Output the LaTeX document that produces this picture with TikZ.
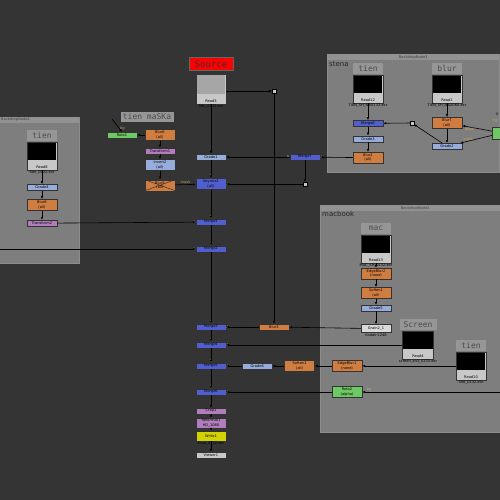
\documentclass[tikz,border=0pt]{standalone}
\usepackage{fontspec}
\setmainfont{DejaVu Sans}
\newfontfamily\stampfont{DejaVu Sans Mono}
\usetikzlibrary{positioning, arrows.meta}

\definecolor{nkbg}{RGB}{52,52,52}
\definecolor{nkbackdrop}{RGB}{126,126,126}
\definecolor{nkbar}{RGB}{146,146,146}
\definecolor{nkmerge}{RGB}{80,95,205}
\definecolor{nkgrade}{RGB}{150,172,218}
\definecolor{nkblur}{RGB}{208,125,65}
\definecolor{nkxform}{RGB}{178,125,188}
\definecolor{nkroto}{RGB}{110,200,100}
\definecolor{nkwrite}{RGB}{210,210,0}
\definecolor{nkread}{RGB}{200,200,200}
\definecolor{nkstamp}{RGB}{150,150,150}
\definecolor{nkpipe}{RGB}{205,160,95}

\begin{document}
\begin{tikzpicture}[
    x=1pt, y=-1pt,
    font=\fontsize{3.6}{4.3}\selectfont,
    nk/.style={
        draw=black!80, minimum width=30pt, minimum height=6pt,
        inner sep=0.5pt, align=center
    },
    merge/.style={nk, fill=nkmerge},
    grade/.style={nk, fill=nkgrade},
    blurnode/.style={nk, fill=nkblur, minimum height=11pt},
    xform/.style={nk, fill=nkxform},
    roto/.style={nk, fill=nkroto},
    readnode/.style={
        nk, fill=nkread, minimum height=28pt,
        path picture={\fill[#1] ([shift={(0.6pt,-0.6pt)}]path picture bounding box.north west)
            rectangle ([shift={(-0.6pt,10pt)}]path picture bounding box.south east);}
    },
    readnode/.default=black,
    readname/.style={label={[anchor=south, inner sep=1pt]south:#1}},
    readfile/.style={label={[anchor=north, inner sep=0.3pt]south:#1}},
    xcross/.style={
        path picture={\draw[black!80, line width=0.5pt]
            (path picture bounding box.north west) -- (path picture bounding box.south east)
            (path picture bounding box.south west) -- (path picture bounding box.north east);}
    },
    stamp/.style={
        fill=nkstamp, minimum width=30pt, minimum height=11pt, inner sep=0pt,
        font=\stampfont\fontsize{8}{8}\selectfont, text=black!70
    },
    nkdot/.style={draw=black, fill=nkread, minimum size=3.5pt, inner sep=0pt},
    pipe/.style={-{Latex[length=3pt,width=2.5pt]}, line width=0.6pt, draw=black},
    plabel/.style={text=nkpipe, inner sep=0.3pt},
    backdrop/.style={fill=nkbackdrop, draw=black!45, anchor=north west, inner sep=0pt},
    bdtitle/.style={fill=nkbar, anchor=north west, inner sep=0pt, minimum height=6pt, text=black!75},
    bdname/.style={anchor=north west, inner sep=0pt, font=\fontsize{7}{7}\selectfont, text=black!85}
]

\useasboundingbox (0,0) rectangle (500,500);
\clip (0,0) rectangle (500,500);
\fill[nkbg] (0,0) rectangle (500,500);

% ===== BACKDROPS =====
\node[backdrop, minimum width=172pt, minimum height=118pt] (bdstena) at (327,54) {};
\node[bdtitle, minimum width=172pt] at (bdstena.north west) {BackdropNode3};
\node[bdname] at (329,61) {stena};

\node[backdrop, minimum width=138pt, minimum height=146pt] (bdtien) at (-59,117) {};
\node[bdtitle, minimum width=79pt] at (0,117) {};
\node[anchor=west, inner sep=0pt, text=black!75] (bdtientitle) at (1,120) {BackdropNode2};

\node[backdrop, minimum width=190pt, minimum height=227pt] (bdmac) at (320,205) {};
\node[bdtitle, minimum width=190pt] at (bdmac.north west) {BackdropNode1};
\node[bdname] at (322,211) {macbook};

% ===== MAIN PIPE =====
\node[draw=black!60, fill=red, minimum width=44pt, minimum height=13pt, inner sep=0pt,
    font=\stampfont\fontsize{9}{9}\selectfont, text=black!80] (srclabel) at (211,64) {Source};
\node[readnode=black!35, minimum height=30pt, readname=Read3, readfile=SRC\_0132.exr] (read3) at (211,89) {};

\node[grade] (grade1) at (211,157) {Grade1};
\node[merge, minimum height=11pt, label={[plabel]north:B}, label={[plabel]east:A}] (keymix2) at (211,184) {Keymix2\\(all)};
\node[merge, label={[plabel]north:B}, label={[plabel]west:A}] (merge1) at (211,222) {Merge1};
\node[merge, label={[plabel]north:B}, label={[plabel]west:A}] (merge2) at (211,249) {Merge2};
\node[merge, label={[plabel]north:B}, label={[plabel]east:A}] (merge3) at (211,327) {Merge3};
\node[merge, label={[plabel]north:B}, label={[plabel]east:A}] (merge4) at (211,345) {Merge4};
\node[merge, label={[plabel]north:B}, label={[plabel]east:A}] (merge5) at (211,366) {Merge5};
\node[merge, label={[plabel]north:B}, label={[plabel]east:A}] (merge6) at (211,392) {Merge6};
\node[xform] (crop1) at (211,411) {Crop1};
\node[xform, minimum height=10pt] (reformat1) at (211,423) {Reformat1\\HD\_1080};
\node[nk, fill=nkwrite, minimum height=10pt, label={[inner sep=0.3pt]south:Final\_0132.exr}] (write1) at (211,436) {Write1};
\node[nk, fill=nkread] (viewer1) at (211,455) {Viewer1};

% ===== SHADOW MASK =====
\node[stamp, minimum width=53pt, minimum height=9pt] (maskstamp) at (147,117) {tien maSKa};
\node[roto] (roto1) at (122,135) {Roto1};
\coordinate (bgin) at (112,119);
\node[blurnode] (blur6) at (160,135) {Blur6\\(all)};
\node[xform, below=7pt of blur6] (transform1) {Transform1};
\node[grade, minimum height=11pt, below=5pt of transform1] (invert2) {Invert2\\(all)};
\node[blurnode, xcross, below=9pt of invert2] (blur5) {Blur5\\(all)};

% ===== RIGHT OF MAIN PIPE =====
\node[nkdot] (dot1) at (274,91) {};
\node[merge, label={[plabel]west:B}, label={[plabel]east:A}] (merge7) at (305,157) {Merge7};
\node[nkdot] (dot2) at (305,184) {};
\node[blurnode, minimum height=6pt] (blur3) at (274,327) {Blur3};

% ===== BACKDROP 3: STENA =====
\node[readnode, readname=Read12, readfile=TIEN\_SH\_NAD132.exr] (read12) at (368,89) {};
\node[stamp, above=1pt of read12] (tienstamp1) {tien};
\node[merge, below=17pt of read12, label={[plabel]north:B}, label={[plabel]east:A}] (merge8) {Merge8};
\node[grade, below=9pt of merge8] (grade3) {Grade3};
\node[blurnode, below=10pt of grade3] (blur2) {Blur2\\(all)};

\node[readnode, readname=Read1, readfile=TIEN\_SH\_NAD060.exr] (read1) at (447,89) {};
\node[stamp, above=1pt of read1] (blurstamp) {blur};
\node[blurnode, below=14pt of read1] (blur7) {Blur7\\(all)};
\node[grade, below=14.5pt of blur7] (grade2) {Grade2};
\node[nkdot] (dot3) at (412,123) {};
\node[roto, minimum width=20pt, minimum height=12pt] (roto3) at (502,133) {};
\node[plabel] (bgstena) at (495,121) {bg};
\node[inner sep=0pt] (vstena) at (497,114) {V};

% ===== BACKDROP 2: TIEN =====
\node[readnode, readname=Read8, readfile=tien\_0132.exr] (read8) at (42,156) {};
\node[stamp, above=1pt of read8] (tienstamp2) {tien};
\node[grade, below=14pt of read8] (grade4) {Grade4};
\node[blurnode, below=8.5pt of grade4] (blur8) {Blur8\\(all)};
\node[xform, below=9.5pt of blur8] (transform2) {Transform2};
\coordinate (leftin) at (0,249);

% ===== BACKDROP 1: MACBOOK =====
\node[readnode, readname=Read13, readfile=MAC\_SH\_0132.exr] (read13) at (376,249) {};
\node[stamp, above=1pt of read13] (macstamp) {mac};
\node[blurnode, below=4.5pt of read13] (edgeblur2) {EdgeBlur2\\(none)};
\node[blurnode, below=8pt of edgeblur2] (soften1) {Soften1\\(all)};
\node[grade, below=6.5pt of soften1] (grade5) {Grade5};
\node[nk, fill=nkread!70!white, minimum height=8pt, below=13pt of grade5,
    label={[inner sep=0.3pt]south:Kodak 5248}] (grain21) {Grain2\_1};

\node[readnode, minimum width=31pt, readname=Read4, readfile=screen\_sh3\_0233.exr] (read4) at (418,345) {};
\node[stamp, minimum width=37pt, above=1pt of read4] (screenstamp) {Screen};
\node[readnode, readname=Read10, readfile=406\_0132.exr] (read10) at (471,366) {};
\node[stamp, above=1pt of read10] (tienstamp3) {tien};
\node[blurnode] (edgeblur1) at (347,366) {EdgeBlur1\\(none)};
\node[blurnode, left=17pt of edgeblur1] (soften2) {Soften2\\(all)};
\node[grade, left=12pt of soften2] (grade6) {Grade6};
\node[roto, minimum height=11pt] (roto2) at (347,392) {Roto2\\(alpha)};
\coordinate (rotoin) at (500,392);

% ===== PIPES: MAIN =====
\draw[pipe] (read3) -- (grade1);
\draw[pipe] (read3.east |- dot1) -- (dot1);
\draw[pipe] (dot1) -- (blur3);
\draw[pipe] (grade1) -- (keymix2);
\draw[pipe] (keymix2) -- (merge1);
\draw[pipe] (merge1) -- (merge2);
\draw[pipe] (merge2) -- (merge3);
\draw[pipe] (merge3) -- (merge4);
\draw[pipe] (merge4) -- (merge5);
\draw[pipe] (merge5) -- (merge6);
\draw[pipe] (merge6) -- (crop1);
\draw[pipe] (crop1) -- (reformat1);
\draw[pipe] (reformat1) -- (write1);
\draw[pipe] (write1) -- (viewer1);

% ===== PIPES: MASK =====
\draw[pipe] (bgin) -- (roto1.north) node[plabel, pos=0.75, right] {bg};
\draw[pipe] (blur6) -- (roto1);
\draw[pipe] (blur6) -- (transform1);
\draw[pipe] (transform1) -- (invert2);
\draw[pipe] (invert2) -- (blur5);
\draw[pipe] (blur5) -- (keymix2) node[plabel, midway, above] {mask};
\draw[pipe] (merge7) -- (grade1);
\draw[pipe] (merge7) -- (dot2);
\draw[pipe] (dot2) -- (keymix2);

% ===== PIPES: STENA =====
\draw[pipe] (read12) -- (merge8);
\draw[pipe] (dot3) -- (merge8);
\draw[pipe] (merge8) -- (grade3);
\draw[pipe] (grade3) -- (blur2);
\draw[pipe] (blur2) -- (merge7);
\draw[pipe] (read1) -- (blur7);
\draw[pipe] (blur7) -- (grade2);
\draw[pipe] (grade2) -- (dot3);
\draw[pipe] (roto3) -- (blur7) node[plabel, pos=0.75, below] {mask};
\draw[pipe] (roto3) -- (grade2) node[plabel, pos=0.75, above] {mask};

% ===== PIPES: TIEN =====
\draw[pipe] (read8) -- (grade4);
\draw[pipe] (grade4) -- (blur8);
\draw[pipe] (blur8) -- (transform2);
\draw[pipe] (transform2) -- (merge1);
\draw[pipe] (leftin) -- (merge2);

% ===== PIPES: MACBOOK =====
\draw[pipe] (read13) -- (edgeblur2);
\draw[pipe] (edgeblur2) -- (soften1);
\draw[pipe] (soften1) -- (grade5);
\draw[pipe] (grade5) -- (grain21);
\draw[pipe] (grain21) -- (blur3);
\draw[pipe] (blur3) -- (merge3);
\draw[pipe] (read4) -- (merge4);
\draw[pipe] (read10) -- (edgeblur1);
\draw[pipe] (edgeblur1) -- (soften2);
\draw[pipe] (soften2) -- (grade6);
\draw[pipe] (grade6) -- (merge5);
\draw[pipe] (rotoin) -- (roto2) node[plabel, pos=0.95, above] {bg};
\draw[pipe] (roto2) -- (merge6);

\end{tikzpicture}
\end{document}
